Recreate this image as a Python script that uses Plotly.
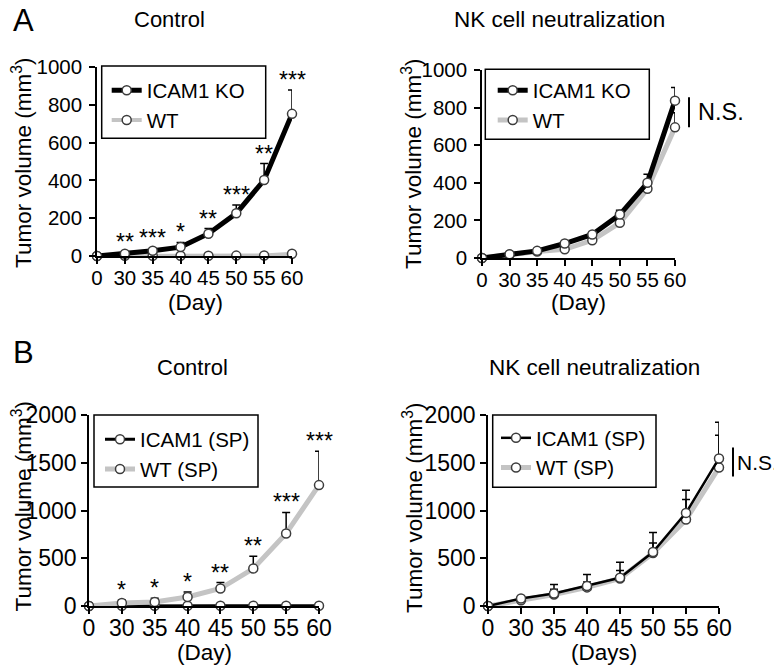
import plotly.graph_objects as go

# The page body adds an 8px margin, so the figure is 8px smaller and all
# reference pixel positions are shifted by OFF.
OFF = 8
W, H = 782 - OFF, 668 - OFF
FONT = "Liberation Sans, Arial, Helvetica, sans-serif"
GRAY = "#c4c4c4"
EDGE = "#3c3c3c"

days = ["0", "30", "35", "40", "45", "50", "55", "60"]

# Panel A – Control
a_ctrl_ko = [0, 12, 28, 47, 118, 226, 402, 752]
a_ctrl_ko_err = [0, 8, 12, 25, 27, 44, 87, 126]
a_ctrl_wt = [0, 1, 1, 1, 1, 2, 3, 12]
a_ctrl_wt_err = [0, 1, 1, 1, 1, 1, 2, 5]
a_ctrl_stars = ["", "**", "***", "*", "**", "***", "**", "***"]

# Panel A – NK cell neutralization
a_nk_ko = [0, 20, 38, 77, 125, 231, 400, 837]
a_nk_ko_err = [0, 3, 5, 6, 10, 23, 46, 70]
a_nk_wt = [0, 18, 34, 46, 94, 187, 368, 695]
a_nk_wt_err = [0, 3, 4, 6, 8, 14, 25, 78]
a_nk_ns = [695, 855]

# Panel B – Control
b_ctrl_icam = [0, 2, 2, 2, 2, 2, 2, 3]
b_ctrl_icam_err = [0, 0, 0, 0, 0, 0, 0, 0]
b_ctrl_wt = [0, 32, 43, 94, 183, 392, 760, 1266]
b_ctrl_wt_err = [0, 32, 39, 53, 63, 129, 220, 354]
b_ctrl_stars = ["", "*", "*", "*", "**", "**", "***", "***"]

# Panel B – NK cell neutralization
b_nk_icam = [0, 78, 130, 210, 295, 565, 975, 1545]
b_nk_icam_err = [0, 25, 95, 121, 164, 204, 236, 380]
b_nk_wt = [0, 60, 120, 195, 288, 555, 905, 1450]
b_nk_wt_err = [0, 15, 56, 57, 85, 104, 210, 338]
b_nk_ns = [1355, 1660]


def PX(x):
    return (x - OFF) / W


def PY(y):
    return 1 - (y - OFF) / H


# subplot boxes in reference pixels: (x0, x1, ytop, ybottom)
boxes = {
    "1": (97, 292, 67, 256),
    "2": (482, 675, 70, 258),
    "3": (89, 319, 415, 606),
    "4": (488, 719, 415, 606),
}
yranges = {"1": 1000, "2": 1000, "3": 2000, "4": 2000}
ydticks = {"1": 200, "2": 200, "3": 500, "4": 500}
ytickfs = {"1": 20.5, "2": 20.5, "3": 23, "4": 23}
xtickfs = {"1": 20.5, "2": 20.5, "3": 23, "4": 23}
xstand = {"1": -3, "2": -3, "3": -5, "4": -5}
ystand = {"1": 3, "2": 3, "3": 0, "4": 0}

fig = go.Figure()


def series(y, err, color, width, name, k, rank):
    sfx = "" if k == "1" else k
    return go.Scatter(
        x=days, y=y, mode="lines+markers", name=name,
        line=dict(color=color, width=width),
        marker=dict(size=9, color="white", line=dict(color=EDGE, width=1.5)),
        error_y=dict(type="data", array=err, arrayminus=[0] * len(err), symmetric=False,
                     color="black", thickness=1.5, width=4),
        xaxis="x" + sfx, yaxis="y" + sfx, legend="legend" + sfx,
        legendrank=rank, legendgroup=name + k, cliponaxis=False,
    )


# A left: WT under KO
fig.add_trace(series(a_ctrl_wt, a_ctrl_wt_err, GRAY, 4, "WT", "1", 2))
fig.add_trace(series(a_ctrl_ko, a_ctrl_ko_err, "black", 5, "ICAM1 KO", "1", 1))
# A right
fig.add_trace(series(a_nk_wt, a_nk_wt_err, GRAY, 5, "WT", "2", 2))
fig.add_trace(series(a_nk_ko, a_nk_ko_err, "black", 5, "ICAM1 KO", "2", 1))
# B left: ICAM1 under WT
fig.add_trace(series(b_ctrl_icam, b_ctrl_icam_err, "black", 3, "ICAM1 (SP)", "3", 1))
fig.add_trace(series(b_ctrl_wt, b_ctrl_wt_err, GRAY, 5, "WT (SP)", "3", 2))
# B right
fig.add_trace(series(b_nk_wt, b_nk_wt_err, GRAY, 5, "WT (SP)", "4", 2))
fig.add_trace(series(b_nk_icam, b_nk_icam_err, "black", 2.5, "ICAM1 (SP)", "4", 1))

layout = dict(
    template="none",
    width=W, height=H, margin=dict(l=0, r=0, t=0, b=0, pad=0, autoexpand=False),
    paper_bgcolor="white", plot_bgcolor="white",
    font=dict(family=FONT, color="black", size=21),
    showlegend=True,
)

for k, (x0, x1, yt, yb) in boxes.items():
    sfx = "" if k == "1" else k
    layout["xaxis" + sfx] = dict(
        domain=[PX(x0), PX(x1)], type="category", range=[0, 7],
        showline=True, linecolor="black", linewidth=1.5,
        ticks="outside", ticklen=6, tickwidth=1.5, tickcolor="black",
        tickfont=dict(size=xtickfs[k]), ticklabelstandoff=xstand[k],
        showgrid=False, zeroline=False, anchor="y" + sfx, automargin=False,
    )
    layout["yaxis" + sfx] = dict(
        domain=[PY(yb), PY(yt)], range=[0, yranges[k]], tick0=0, dtick=ydticks[k],
        showline=True, linecolor="black", linewidth=1.5,
        ticks="outside", ticklen=6, tickwidth=1.5, tickcolor="black",
        tickfont=dict(size=ytickfs[k]), ticklabelstandoff=ystand[k],
        showgrid=False, zeroline=False, anchor="x" + sfx, automargin=False,
    )

# legends
legend_pos = {"1": (106.7, 70.5), "2": (492.7, 70.5), "3": (100, 419.5), "4": (496, 418)}
for k, (lx, ly) in legend_pos.items():
    sfx = "" if k == "1" else k
    layout["legend" + sfx] = dict(
        x=PX(lx), y=PY(ly), xanchor="left", yanchor="top",
        bgcolor="rgba(0,0,0,0)", borderwidth=0, tracegroupgap=3,
        font=dict(size=20.5, family=FONT), traceorder="normal",
    )

fig.update_layout(**layout)

# legend boxes
legend_boxes = [(101.7, 66, 265.7, 138.3), (485.3, 69.3, 649.3, 139.3),
                (94, 415, 258, 487), (492.7, 415, 656, 487.3)]
for (x0, y0, x1, y1) in legend_boxes:
    fig.add_shape(type="rect", xref="paper", yref="paper",
                  x0=PX(x0), x1=PX(x1), y0=PY(y1), y1=PY(y0),
                  line=dict(color="black", width=1.5), fillcolor="rgba(0,0,0,0)")

anns = []


def text_px(t, x, y, size=22.5, xanchor="center", angle=0):
    anns.append(dict(text=t, x=PX(x), y=PY(y), xref="paper", yref="paper",
                     xanchor=xanchor, yanchor="middle", showarrow=False,
                     textangle=angle, font=dict(size=size, family=FONT)))


text_px("A", 11, 20.5, size=31, xanchor="left")
text_px("B", 11, 352, size=31, xanchor="left")
text_px("Control", 169, 19, size=22)
text_px("NK cell neutralization", 559, 19, size=22.5)
text_px("Control", 192, 367, size=22)
text_px("NK cell neutralization", 594, 367, size=22.5)
ytitle = "Tumor volume (mm<sup>3</sup>)"
text_px(ytitle, 22, 163, angle=-90)
text_px(ytitle, 412, 164, angle=-90)
text_px(ytitle, 21.5, 507, angle=-90)
text_px(ytitle, 413, 508, angle=-90)
text_px("(Day)", 195, 302)
text_px("(Day)", 578, 302)
text_px("(Day)", 204, 652)
text_px("(Days)", 604, 652)


# significance stars (category axes take the category index as position)
def stars(labels, vals, errs, k):
    sfx = "" if k == "1" else k
    for i, (s, v, e) in enumerate(zip(labels, vals, errs)):
        if s:
            anns.append(dict(text=s, x=i, y=v + e, xref="x" + sfx, yref="y" + sfx,
                             xanchor="center", yanchor="bottom", yshift=-5,
                             showarrow=False, font=dict(size=23, family=FONT)))


stars(a_ctrl_stars, a_ctrl_ko, a_ctrl_ko_err, "1")
stars(b_ctrl_stars, b_ctrl_wt, b_ctrl_wt_err, "3")


# N.S. brackets
def ns(span, k, xoff_bar, xoff_text, size):
    x0, x1, yt, yb = boxes[k]
    rng = yranges[k]

    def vy(v):
        return yb - (yb - yt) * v / rng
    bx = x1 + xoff_bar
    fig.add_shape(type="line", xref="paper", yref="paper",
                  x0=PX(bx), x1=PX(bx), y0=PY(vy(span[0])), y1=PY(vy(span[1])),
                  line=dict(color="black", width=2))
    anns.append(dict(text="N.S.", x=PX(x1 + xoff_text), y=PY(vy(sum(span) / 2)),
                     xref="paper", yref="paper", xanchor="left", yanchor="middle",
                     showarrow=False, borderpad=0, font=dict(size=size, family=FONT)))


ns(a_nk_ns, "2", 14, 22, 23.5)
ns(b_nk_ns, "4", 14, 17, 21)

fig.update_layout(annotations=anns)
fig.write_html("out.html")
